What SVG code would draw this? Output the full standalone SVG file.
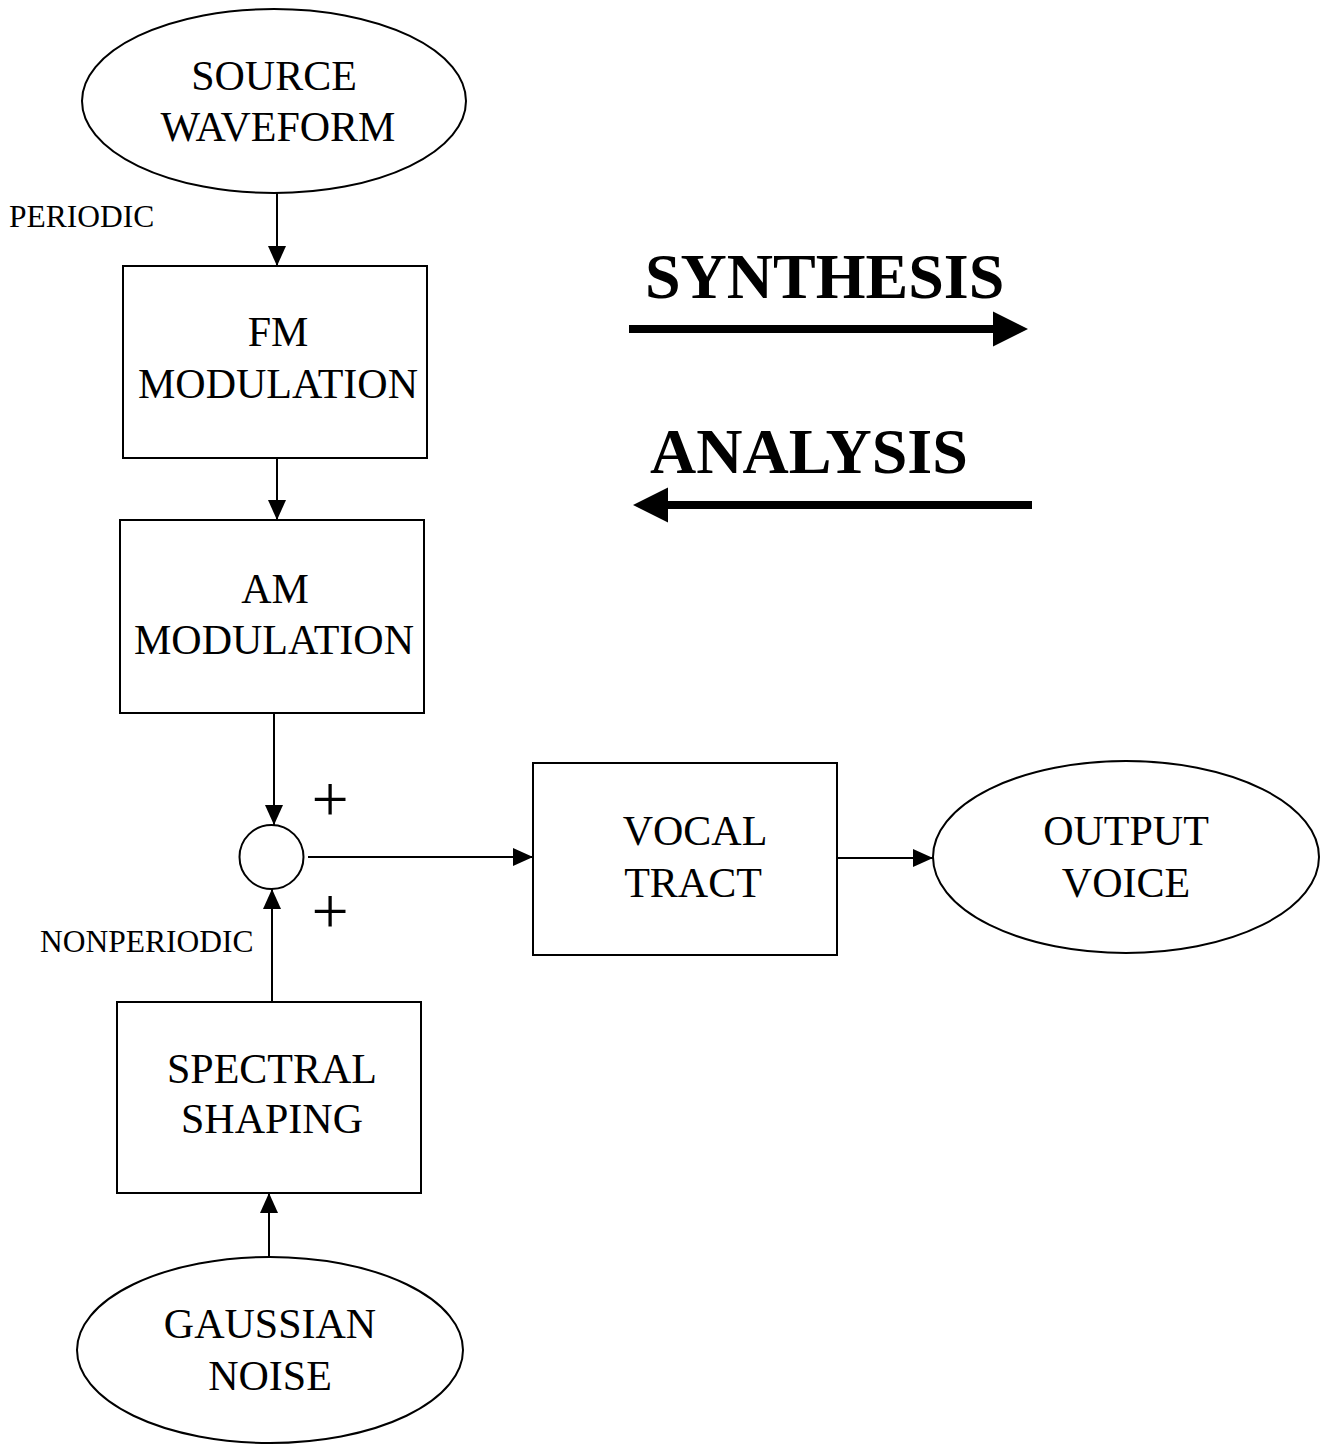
<svg xmlns="http://www.w3.org/2000/svg" width="1326" height="1445" viewBox="0 0 1326 1445">
<style>
.shape{fill:#fff;stroke:#000;stroke-width:2}
.lbl{font-family:"Liberation Serif","Times New Roman",serif;font-size:42px;fill:#000;text-anchor:middle}
.small{font-family:"Liberation Serif","Times New Roman",serif;font-size:31.5px;fill:#000}
.plus{font-family:"Liberation Serif","Times New Roman",serif;font-size:66px;fill:#000;text-anchor:middle}
.big{font-family:"Liberation Serif","Times New Roman",serif;font-size:64px;font-weight:bold;fill:#000}
.conn{stroke:#000;stroke-width:2;fill:none;marker-end:url(#ah)}
.thick{stroke:#000;stroke-width:8;fill:none}
</style>
<defs>
<marker id="ah" markerUnits="userSpaceOnUse" markerWidth="20" markerHeight="20" refX="20" refY="10" orient="auto">
<path d="M0,1 L20,10 L0,19 Z" fill="#000"/>
</marker>
</defs>
<g id="source">
<ellipse class="shape" cx="274" cy="101" rx="192" ry="92"/>
<text class="lbl" x="274" y="90">SOURCE</text>
<text class="lbl" x="278" y="141">WAVEFORM</text>
</g>
<text class="small" x="9" y="227">PERIODIC</text>
<g id="fm">
<rect class="shape" x="123" y="266" width="304" height="192"/>
<text class="lbl" x="278" y="346">FM</text>
<text class="lbl" x="278" y="398">MODULATION</text>
</g>
<g id="am">
<rect class="shape" x="120" y="520" width="304" height="193"/>
<text class="lbl" x="275" y="603">AM</text>
<text class="lbl" x="274" y="654">MODULATION</text>
</g>
<g id="sum">
<circle class="shape" cx="271.5" cy="857" r="32"/>
</g>
<text class="plus" x="330" y="821">+</text>
<text class="plus" x="330" y="933">+</text>
<text class="small" x="40" y="952">NONPERIODIC</text>
<g id="vocal">
<rect class="shape" x="533" y="763" width="304" height="192"/>
<text class="lbl" x="695" y="845">VOCAL</text>
<text class="lbl" x="693" y="897">TRACT</text>
</g>
<g id="output">
<ellipse class="shape" cx="1126" cy="857" rx="193" ry="96"/>
<text class="lbl" x="1126" y="845">OUTPUT</text>
<text class="lbl" x="1126" y="897">VOICE</text>
</g>
<g id="spectral">
<rect class="shape" x="117" y="1002" width="304" height="191"/>
<text class="lbl" x="272" y="1083">SPECTRAL</text>
<text class="lbl" x="272" y="1133">SHAPING</text>
</g>
<g id="gaussian">
<ellipse class="shape" cx="270" cy="1350" rx="193" ry="93"/>
<text class="lbl" x="270" y="1338">GAUSSIAN</text>
<text class="lbl" x="270" y="1390">NOISE</text>
</g>
<g id="legend">
<text class="big" x="645" y="298">SYNTHESIS</text>
<text class="big" x="650" y="473">ANALYSIS</text>
<line class="thick" x1="629" y1="329" x2="995" y2="329"/>
<path d="M993,311.5 L1028,329 L993,346.5 Z" fill="#000"/>
<line class="thick" x1="1032" y1="505" x2="666" y2="505"/>
<path d="M668,487.5 L633,505 L668,522.5 Z" fill="#000"/>
</g>
<g id="connectors">
<line class="conn" x1="277" y1="193" x2="277" y2="266"/>
<line class="conn" x1="277" y1="458" x2="277" y2="520"/>
<line class="conn" x1="274" y1="713" x2="274" y2="825"/>
<line class="conn" x1="308" y1="857" x2="533" y2="857"/>
<line class="conn" x1="837" y1="858" x2="933" y2="858"/>
<line class="conn" x1="272" y1="1002" x2="272" y2="889"/>
<line class="conn" x1="269" y1="1257" x2="269" y2="1193"/>
</g>
</svg>
